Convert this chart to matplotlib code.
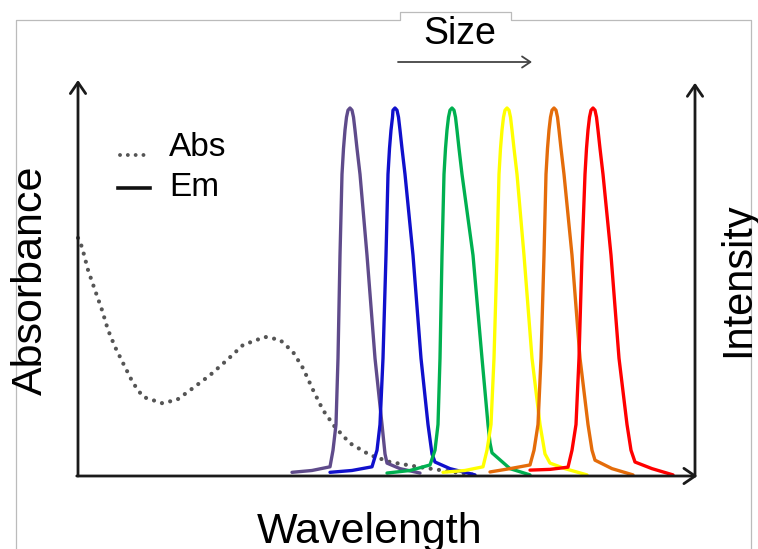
import matplotlib.pyplot as plt
from matplotlib.lines import Line2D
from matplotlib.patches import FancyArrowPatch

plt.rcParams["font.family"] = ["Liberation Sans", "DejaVu Sans"]

# absorbance of the dots (arbitrary wavelength units, % of emission peak)
abs_x = [0, 4, 10, 17, 24, 30, 37, 45, 55, 65, 84, 99, 115, 132, 149, 165, 187,
         202, 215, 225, 235, 245, 257, 272, 292, 312, 342, 375, 397]
abs_y = [64.7, 62.2, 56.0, 50.5, 45.1, 39.7, 35.1, 30.7, 25.3, 21.5, 19.8, 20.7,
         23.9, 27.4, 31.5, 35.6, 37.8, 37.0, 33.7, 29.3, 23.4, 17.9, 13.3, 8.9,
         5.7, 3.8, 2.4, 1.1, 0.3]

# emission bands, smallest dots first
purple_x = [214, 234, 252, 255, 258, 260, 262, 264, 265.5, 267, 268.5, 270, 272,
            274, 275.5, 277, 279, 282, 289, 297, 304, 307, 309, 322, 342]
purple_y = [1, 1.5, 2.5, 7, 14, 32, 60, 82, 89, 94, 97.5, 99.4, 100,
            99.4, 97.5, 94, 89, 82, 60, 32, 14, 6, 3.5, 2, 0.8]
blue_x = [252, 274, 294, 299, 302, 305, 308, 310, 311.5, 313, 314.5, 315, 317,
          319, 320.5, 322, 324, 327, 335, 343, 350, 354, 357, 372, 397]
blue_y = [1, 1.5, 2.5, 7, 14, 32, 60, 82, 89, 94, 97.5, 99.4, 100,
          99.4, 97.5, 94, 89, 82, 60, 32, 14, 6, 3.8, 2, 0.3]
green_x = [309, 332, 352, 357, 360, 362, 364, 366, 367.5, 369, 370.5, 372, 374,
           376, 377.5, 379, 381, 384, 395, 404, 410, 412, 414, 432, 452]
green_y = [0.8, 1.5, 3, 7, 14, 32, 60, 82, 89, 94, 97.5, 99.4, 100,
           99.4, 97.5, 94, 89, 82, 60, 32, 14, 9, 6.3, 2, 0.3]
yellow_x = [365, 387, 405, 409, 413, 416, 419, 421, 422.5, 424, 425.5, 427, 429,
            431, 432.5, 434, 436, 439, 446, 454, 462, 467, 472, 487, 509]
yellow_y = [1, 1.5, 2.5, 7, 14, 32, 60, 82, 89, 94, 97.5, 99.4, 100,
            99.4, 97.5, 94, 89, 82, 60, 32, 14, 6, 3.5, 2, 0.3]
orange_x = [412, 432, 452, 456, 460, 463, 466, 468, 469.5, 471, 472.5, 474, 476,
            478, 479.5, 481, 483, 486, 494, 502, 510, 514, 517, 534, 555]
orange_y = [1.1, 2, 3, 7, 14, 32, 60, 82, 89, 94, 97.5, 99.4, 100,
            99.4, 97.5, 94, 89, 82, 60, 32, 14, 7, 4.3, 2, 0.3]
red_x = [452, 472, 490, 494, 498, 501, 504, 507, 508.5, 510, 511.5, 513, 515,
         517, 518.5, 520, 522, 525, 533, 541, 549, 553, 557, 574, 595]
red_y = [1.6, 1.8, 2.4, 7, 14, 32, 60, 82, 89, 94, 97.5, 99.4, 100,
         99.4, 97.5, 94, 89, 82, 60, 32, 14, 7, 3.8, 2, 0.3]

bands = [
    (purple_x, purple_y, "#5F4B8B"),
    (blue_x, blue_y, "#1010CC"),
    (green_x, green_y, "#00B050"),
    (yellow_x, yellow_y, "#FFFF00"),
    (orange_x, orange_y, "#E46C0A"),
    (red_x, red_y, "#FF0000"),
]

W, H = 758, 549
fig = plt.figure(figsize=(W / 100, H / 100), dpi=100)


def fx(px):
    return px / W


def fy(py):
    return 1 - py / H


# plot area: x from 78 to 695 px, y from 476 (bottom) to 80 px
ax = fig.add_axes([fx(78), fy(476), fx(695) - fx(78), fy(80) - fy(476)])
ax.set_xlim(0, 617)
ax.set_ylim(0, (476 - 80) / 3.68)
ax.axis("off")

ax.plot(abs_x, abs_y, color="#555555", lw=3.0, linestyle=(0, (0.01, 2.0)),
        dash_capstyle="round", clip_on=False)
for x, y, c in bands:
    ax.plot(x, y, color=c, lw=2.4, solid_joinstyle="round",
            solid_capstyle="round", clip_on=False)

# axes drawn as arrows
arrow = dict(arrowstyle="->,head_length=0.8,head_width=0.55", lw=2,
             color="#1a1a1a", shrinkA=0, shrinkB=0)
ax.annotate("", xy=(0, 1.0), xytext=(0, 0), xycoords="axes fraction",
            arrowprops=arrow)
ax.annotate("", xy=(1, 0.993), xytext=(1, 0), xycoords="axes fraction",
            arrowprops=arrow)
ax.annotate("", xy=(1.004, 0), xytext=(-0.002, 0), xycoords="axes fraction",
            arrowprops=arrow)

# legend
fig.add_artist(Line2D([fx(120), fx(146)], [fy(155), fy(155)], color="#555555",
                      lw=2.8, linestyle=(0, (0.01, 2.0)), dash_capstyle="round"))
fig.add_artist(Line2D([fx(118), fx(150)], [fy(188), fy(188)], color="#111111",
                      lw=2.6))
fig.text(fx(169), fy(147), "Abs", fontsize=24, va="center", ha="left")
fig.text(fx(169), fy(188), "Em", fontsize=24, va="center", ha="left")

# axis titles
fig.text(fx(31), fy(280), "Absorbance", fontsize=31, rotation=90,
         ha="center", va="center")
fig.text(fx(738), fy(280), "Intensity", fontsize=30, rotation=90,
         ha="center", va="center")
fig.text(fx(370), fy(532), "Wavelength", fontsize=31, ha="center", va="center")

# size arrow
fig.text(fx(460), fy(34), "Size", fontsize=27, ha="center", va="center")
fig.add_artist(FancyArrowPatch(
    (fx(398), fy(62)), (fx(532), fy(62)), transform=fig.transFigure,
    arrowstyle="->,head_length=6,head_width=4", lw=1.3, color="#444444",
    shrinkA=0, shrinkB=0))

# thin frame with a tab on top
frame_x = [16, 16, 400, 400, 511, 511, 751, 751]
frame_y = [549, 20, 20, 12, 12, 20, 20, 549]
fig.add_artist(Line2D([fx(v) for v in frame_x], [fy(v) for v in frame_y],
                      color="#bbbbbb", lw=0.9))

fig.savefig("out.png", dpi=100)
